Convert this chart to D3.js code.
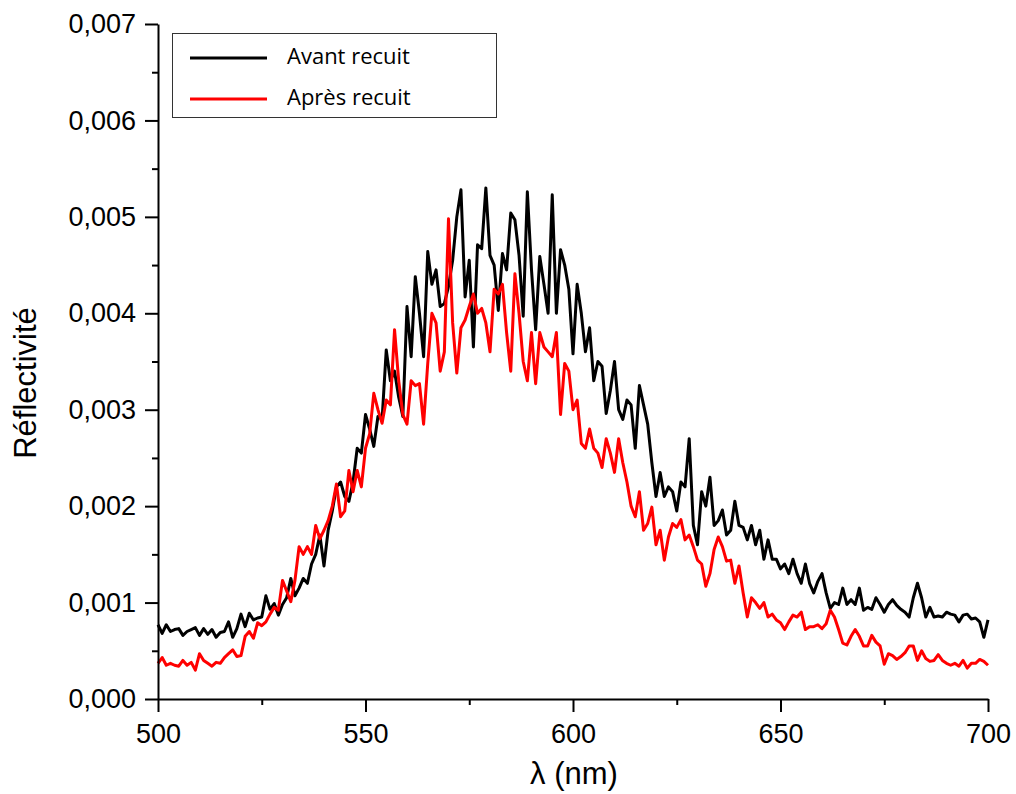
<!DOCTYPE html>
<html lang="fr">
<head>
    <meta charset="UTF-8">
    <title>Réflectivité avant / après recuit</title>
    <script src="https://d3js.org/d3.v7.min.js"></script>
    <style>
        body { margin: 0; background: #fff; }
        svg { display: block; }
    </style>
</head>
<body>
    <svg id="chart" width="1016" height="794"></svg>

    <script>
        // Wavelength grid (nm) : one sample per nm, 500 -> 700
        const lambdaStart = 500;
        const lambdaStep = 1;

        // Reflectivity, one value per nm
        const avantRecuit = [
            0.00077, 0.00068, 0.00077, 0.00070, 0.00072, 0.00073, 0.00066, 0.00070, 0.00072, 0.00074,
            0.00066, 0.00073, 0.00067, 0.00072, 0.00064, 0.00069, 0.00070, 0.00080, 0.00064, 0.00073,
            0.00088, 0.00075, 0.00089, 0.00082, 0.00084, 0.00085, 0.00107, 0.00093, 0.00099, 0.00087,
            0.00098, 0.00105, 0.00125, 0.00107, 0.00115, 0.00125, 0.00120, 0.00140, 0.00150, 0.00170,
            0.00138, 0.00175, 0.00195, 0.00220, 0.00225, 0.00210, 0.00205, 0.00225, 0.00260, 0.00255,
            0.00295, 0.00280, 0.00262, 0.00293, 0.00290, 0.00362, 0.00330, 0.00340, 0.00313, 0.00293,
            0.00407, 0.00355, 0.00438, 0.00400, 0.00355, 0.00464, 0.00430, 0.00445, 0.00407, 0.00410,
            0.00428, 0.00455, 0.00500, 0.00528, 0.00417, 0.00455, 0.00365, 0.00471, 0.00467, 0.00530,
            0.00460, 0.00450, 0.00403, 0.00462, 0.00445, 0.00504, 0.00497, 0.00460, 0.00397, 0.00526,
            0.00445, 0.00383, 0.00459, 0.00430, 0.00400, 0.00523, 0.00400, 0.00466, 0.00450, 0.00425,
            0.00358, 0.00430, 0.00400, 0.00360, 0.00385, 0.00330, 0.00350, 0.00345, 0.00296, 0.00320,
            0.00350, 0.00300, 0.00290, 0.00310, 0.00305, 0.00260, 0.00325, 0.00305, 0.00285, 0.00245,
            0.00210, 0.00235, 0.00210, 0.00220, 0.00215, 0.00195, 0.00225, 0.00220, 0.00270, 0.00180,
            0.00160, 0.00215, 0.00200, 0.00230, 0.00180, 0.00185, 0.00196, 0.00170, 0.00175, 0.00205,
            0.00180, 0.00178, 0.00165, 0.00180, 0.00160, 0.00175, 0.00145, 0.00165, 0.00145, 0.00145,
            0.00135, 0.00140, 0.00130, 0.00145, 0.00130, 0.00120, 0.00140, 0.00120, 0.00110, 0.00122,
            0.00130, 0.00110, 0.00094, 0.00100, 0.00098, 0.00115, 0.00098, 0.00103, 0.00098, 0.00115,
            0.00092, 0.00095, 0.00093, 0.00105, 0.00098, 0.00090, 0.00098, 0.00103, 0.00097, 0.00093,
            0.00090, 0.00085, 0.00105, 0.00120, 0.00105, 0.00085, 0.00095, 0.00085, 0.00086, 0.00085,
            0.00090, 0.00088, 0.00087, 0.00080, 0.00087, 0.00088, 0.00083, 0.00084, 0.00080, 0.00064,
            0.00082
        ];

        const apresRecuit = [
            0.00037, 0.00043, 0.00035, 0.00037, 0.00035, 0.00034, 0.00040, 0.00035, 0.00038, 0.00030,
            0.00047, 0.00040, 0.00037, 0.00034, 0.00038, 0.00037, 0.00043, 0.00047, 0.00051, 0.00044,
            0.00045, 0.00065, 0.00070, 0.00063, 0.00079, 0.00076, 0.00080, 0.00088, 0.00095, 0.00092,
            0.00123, 0.00112, 0.00101, 0.00123, 0.00158, 0.00150, 0.00158, 0.00150, 0.00180, 0.00166,
            0.00175, 0.00185, 0.00200, 0.00223, 0.00189, 0.00195, 0.00237, 0.00215, 0.00237, 0.00220,
            0.00260, 0.00275, 0.00317, 0.00300, 0.00286, 0.00310, 0.00305, 0.00383, 0.00330, 0.00295,
            0.00285, 0.00330, 0.00325, 0.00327, 0.00285, 0.00348, 0.00400, 0.00390, 0.00340, 0.00360,
            0.00498, 0.00390, 0.00338, 0.00385, 0.00393, 0.00407, 0.00420, 0.00400, 0.00405, 0.00390,
            0.00360, 0.00425, 0.00420, 0.00430, 0.00380, 0.00340, 0.00441, 0.00400, 0.00350, 0.00330,
            0.00380, 0.00327, 0.00380, 0.00365, 0.00360, 0.00355, 0.00380, 0.00295, 0.00348, 0.00340,
            0.00300, 0.00310, 0.00265, 0.00260, 0.00280, 0.00260, 0.00255, 0.00240, 0.00270, 0.00255,
            0.00235, 0.00270, 0.00245, 0.00225, 0.00200, 0.00189, 0.00215, 0.00175, 0.00182, 0.00199,
            0.00160, 0.00175, 0.00144, 0.00168, 0.00182, 0.00178, 0.00186, 0.00165, 0.00170, 0.00158,
            0.00144, 0.00140, 0.00117, 0.00130, 0.00155, 0.00168, 0.00158, 0.00143, 0.00144, 0.00120,
            0.00138, 0.00110, 0.00085, 0.00105, 0.00100, 0.00094, 0.00100, 0.00085, 0.00088, 0.00082,
            0.00079, 0.00072, 0.00080, 0.00087, 0.00085, 0.00090, 0.00072, 0.00075, 0.00075, 0.00077,
            0.00073, 0.00078, 0.00092, 0.00085, 0.00072, 0.00058, 0.00056, 0.00065, 0.00072, 0.00065,
            0.00055, 0.00055, 0.00066, 0.00059, 0.00055, 0.00036, 0.00047, 0.00045, 0.00041, 0.00044,
            0.00048, 0.00055, 0.00055, 0.00040, 0.00050, 0.00042, 0.00039, 0.00040, 0.00046, 0.00040,
            0.00037, 0.00035, 0.00037, 0.00034, 0.00040, 0.00032, 0.00037, 0.00037, 0.00041, 0.00039,
            0.00035
        ];

        const xTicks = [500, 550, 600, 650, 700];
        const xMinorTicks = [525, 575, 625, 675];
        const yTicks = [0, 0.001, 0.002, 0.003, 0.004, 0.005, 0.006, 0.007];
        const yMinorTicks = [0.0005, 0.0015, 0.0025, 0.0035, 0.0045, 0.0055, 0.0065];

        const seriesNames = ['Avant recuit', 'Après recuit'];
        const seriesColors = ['#000000', '#ff0000'];

        // Layout
        const svg = d3.select('#chart');
        const plot = { left: 158, right: 988, top: 24, bottom: 699 };
        const font = '"Liberation Sans", Arial, sans-serif';

        const x = d3.scaleLinear().domain([500, 700]).range([plot.left, plot.right]);
        const y = d3.scaleLinear().domain([0, 0.007]).range([plot.bottom, plot.top]);

        const frFormat = d => d3.format('.3f')(d).replace('.', ',');

        // Lines
        const series = [avantRecuit, apresRecuit].map((values, i) => ({
            name: seriesNames[i],
            color: seriesColors[i],
            points: values.map((v, j) => ({ lambda: lambdaStart + j * lambdaStep, r: v }))
        }));

        const line = d3.line()
            .x(d => x(d.lambda))
            .y(d => y(d.r));

        svg.selectAll('.series')
            .data(series)
            .enter().append('path')
            .attr('class', 'series')
            .attr('fill', 'none')
            .attr('stroke', d => d.color)
            .attr('stroke-width', 3)
            .attr('stroke-linejoin', 'round')
            .attr('d', d => line(d.points));

        // Minor ticks first, then the main axes on top
        svg.append('g')
            .attr('transform', `translate(0,${plot.bottom})`)
            .call(d3.axisBottom(x).tickValues(xMinorTicks).tickSize(6).tickFormat(''))
            .call(g => g.select('.domain').remove());

        svg.append('g')
            .attr('transform', `translate(${plot.left},0)`)
            .call(d3.axisLeft(y).tickValues(yMinorTicks).tickSize(6).tickFormat(''))
            .call(g => g.select('.domain').remove());

        const xAxis = svg.append('g')
            .attr('transform', `translate(0,${plot.bottom})`)
            .call(d3.axisBottom(x).tickValues(xTicks).tickSize(13).tickSizeOuter(0).tickPadding(12));

        const yAxis = svg.append('g')
            .attr('transform', `translate(${plot.left},0)`)
            .call(d3.axisLeft(y).tickValues(yTicks).tickSize(13).tickSizeOuter(0).tickPadding(9).tickFormat(frFormat));

        svg.selectAll('.tick line').attr('stroke', '#000').attr('stroke-width', 2);
        svg.selectAll('.domain').attr('stroke', '#000').attr('stroke-width', 2);

        [xAxis, yAxis].forEach(g => g.selectAll('text')
            .attr('fill', '#000')
            .style('font-family', font)
            .style('font-size', '27px'));

        // Axis titles
        svg.append('text')
            .attr('x', 574)
            .attr('y', 784)
            .attr('text-anchor', 'middle')
            .style('font-family', font)
            .style('font-size', '31px')
            .text('λ (nm)');

        svg.append('text')
            .attr('transform', 'translate(36,383) rotate(-90)')
            .attr('text-anchor', 'middle')
            .style('font-family', font)
            .style('font-size', '31px')
            .text('Réflectivité');

        // Legend
        const legend = svg.append('g');

        legend.append('rect')
            .attr('x', 172.5)
            .attr('y', 33.5)
            .attr('width', 324)
            .attr('height', 84)
            .attr('fill', '#fff')
            .attr('stroke', '#333')
            .attr('stroke-width', 1);

        const legendItem = legend.selectAll('.legend-item')
            .data(series)
            .enter().append('g')
            .attr('class', 'legend-item')
            .attr('transform', (d, i) => `translate(0,${58 + i * 41})`);

        legendItem.append('line')
            .attr('x1', 190)
            .attr('x2', 267)
            .attr('stroke', d => d.color)
            .attr('stroke-width', 3);

        legendItem.append('text')
            .attr('x', 287)
            .attr('y', 6)
            .style('font-family', '"Open Sans", sans-serif')
            .style('font-size', '22px')
            .attr('fill', '#000')
            .text(d => d.name);
    </script>
</body>
</html>
